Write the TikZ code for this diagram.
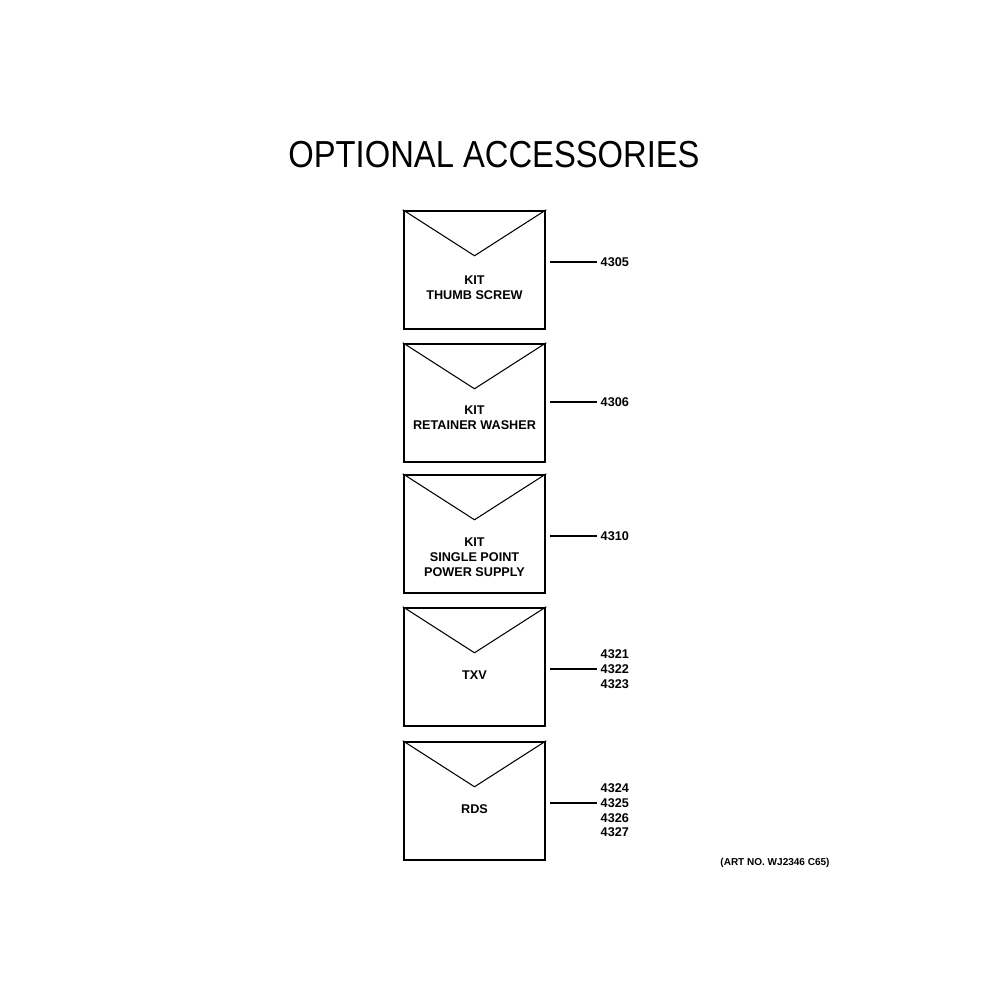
\documentclass[tikz,border=0pt]{standalone}
\usepackage{fontspec}
\setmainfont{Liberation Sans}
\newfontfamily\titlefont[FakeStretch=0.87]{Liberation Sans}
\usepackage{tikz}

\begin{document}
\begin{tikzpicture}[x=0.01cm,y=-0.01cm,
        envelope/.style={draw,line width=0.7pt,minimum width=1.41cm,minimum height=1.18cm,inner sep=0},
        flap/.style={line width=0.3pt},
        leader/.style={line width=0.3pt,shorten <=0.04cm,shorten >=0.03cm},
        partname/.style={font=\fontsize{3.6pt}{4.27pt}\selectfont\bfseries,align=center,inner sep=0},
        partno/.style={font=\fontsize{3.6pt}{4.27pt}\selectfont\bfseries,anchor=west,inner sep=0}]
        \useasboundingbox (0,0) rectangle (1000,1000);
        % title
        \node (title) at (494,155) {\titlefont\fontsize{10.7pt}{12pt}\selectfont OPTIONAL ACCESSORIES};
        % envelopes
        \foreach \n/\y in {1/270,2/403,3/534,4/667,5/801}{
            \node[envelope] (env\n) at (474.5,\y) {};
            \draw[flap] (env\n.north west) -- ([yshift=-0.46cm]env\n.north) -- (env\n.north east);
        }
        % names
        \node[partname] (name1) at (474.5,287.5) {KIT\\THUMB SCREW};
        \node[partname] (name2) at (474.5,417.5) {KIT\\RETAINER WASHER};
        \node[partname] (name3) at (474.5,557) {KIT\\SINGLE POINT\\POWER SUPPLY};
        \node[partname] (name4) at (474.5,675) {TXV};
        \node[partname] (name5) at (474.5,809) {RDS};
        % part numbers
        \node[partno] (n4305) at (600,262) {4305};
        \node[partno] (n4306) at (600,402) {4306};
        \node[partno] (n4310) at (600,536) {4310};
        \foreach \k/\y in {4321/654,4322/669,4323/684,4324/788,4325/803,4326/818,4327/832}
            \node[partno] (n\k) at (600,\y) {\k};
        % leaders
        \foreach \n/\k in {1/4305,2/4306,3/4310,4/4322,5/4325}
            \draw[leader] (env\n.east |- n\k) -- (n\k.west);
        % art number
        \node[font=\fontsize{2.85pt}{3.4pt}\selectfont\bfseries,inner sep=0] (artno) at (775,863) {(ART NO. WJ2346 C65)};
    \end{tikzpicture}
\end{document}
